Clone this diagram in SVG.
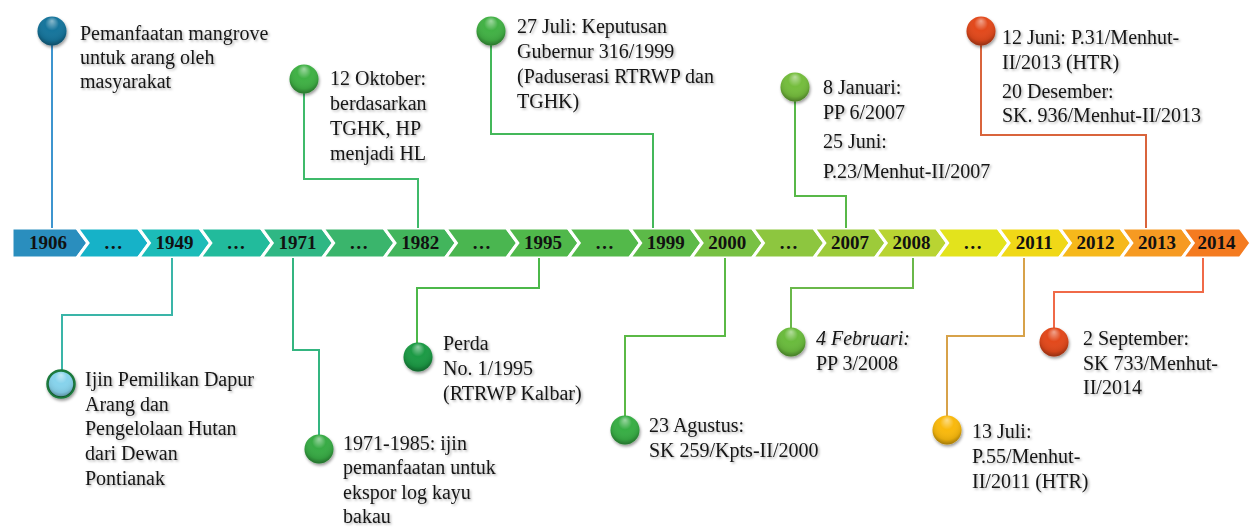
<svg xmlns="http://www.w3.org/2000/svg" width="1251" height="528" viewBox="0 0 1251 528">
<style>
.t{font-family:"Liberation Serif","Times New Roman",serif;font-size:20px;fill:#151515;filter:url(#ts)}
.y{font-family:"Liberation Serif","Times New Roman",serif;font-size:19px;font-weight:bold;fill:#111;text-anchor:middle}
.ch{stroke:#fff;stroke-width:3;stroke-linejoin:miter}
.c{fill:none;stroke-width:2}
.dot{filter:url(#ds)}
.gl{fill:url(#gloss)}
</style>
<defs>
<radialGradient id="gloss" cx="0.5" cy="0.4" r="0.6" fx="0.5" fy="0.15">
<stop offset="0" stop-color="#fff" stop-opacity="0.5"/>
<stop offset="0.4" stop-color="#fff" stop-opacity="0"/>
<stop offset="0.8" stop-color="#000" stop-opacity="0.08"/>
<stop offset="1" stop-color="#000" stop-opacity="0.35"/>
</radialGradient>
<filter id="ds" x="-50%" y="-50%" width="200%" height="200%">
<feDropShadow dx="1" dy="2" stdDeviation="1.5" flood-color="#000" flood-opacity="0.4"/>
</filter>
<filter id="ts" x="-5%" y="-20%" width="110%" height="150%">
<feDropShadow dx="1.5" dy="1.5" stdDeviation="1" flood-color="#000" flood-opacity="0.3"/>
</filter>
</defs>
<rect width="1251" height="528" fill="#fff"/>
<g id="timeline">
<polygon class="ch" fill="#2a8ebe" points="12,228 77,228 88,243 77,258 12,258"/>
<polygon class="ch" fill="#16b2c8" points="77,228 138.4,228 149.4,243 138.4,258 77,258 88,243"/>
<polygon class="ch" fill="#1cbcb8" points="138.4,228 199.8,228 210.8,243 199.8,258 138.4,258 149.4,243"/>
<polygon class="ch" fill="#22bb9c" points="199.8,228 261.2,228 272.2,243 261.2,258 199.8,258 210.8,243"/>
<polygon class="ch" fill="#2fb784" points="261.2,228 322.6,228 333.6,243 322.6,258 261.2,258 272.2,243"/>
<polygon class="ch" fill="#3ab56c" points="322.6,228 384,228 395,243 384,258 322.6,258 333.6,243"/>
<polygon class="ch" fill="#42b55c" points="384,228 445.4,228 456.4,243 445.4,258 384,258 395,243"/>
<polygon class="ch" fill="#4ab650" points="445.4,228 506.8,228 517.8,243 506.8,258 445.4,258 456.4,243"/>
<polygon class="ch" fill="#50b84b" points="506.8,228 568.2,228 579.2,243 568.2,258 506.8,258 517.8,243"/>
<polygon class="ch" fill="#53b94a" points="568.2,228 629.6,228 640.6,243 629.6,258 568.2,258 579.2,243"/>
<polygon class="ch" fill="#5cba48" points="629.6,228 691,228 702,243 691,258 629.6,258 640.6,243"/>
<polygon class="ch" fill="#78c143" points="691,228 752.4,228 763.4,243 752.4,258 691,258 702,243"/>
<polygon class="ch" fill="#8dc63f" points="752.4,228 813.8,228 824.8,243 813.8,258 752.4,258 763.4,243"/>
<polygon class="ch" fill="#9dcb3a" points="813.8,228 875.2,228 886.2,243 875.2,258 813.8,258 824.8,243"/>
<polygon class="ch" fill="#b9d432" points="875.2,228 936.6,228 947.6,243 936.6,258 875.2,258 886.2,243"/>
<polygon class="ch" fill="#e3e31c" points="936.6,228 998,228 1009,243 998,258 936.6,258 947.6,243"/>
<polygon class="ch" fill="#f0d817" points="998,228 1059.4,228 1070.4,243 1059.4,258 998,258 1009,243"/>
<polygon class="ch" fill="#f6b81b" points="1059.4,228 1120.8,228 1131.8,243 1120.8,258 1059.4,258 1070.4,243"/>
<polygon class="ch" fill="#f69a22" points="1120.8,228 1182.2,228 1193.2,243 1182.2,258 1120.8,258 1131.8,243"/>
<polygon class="ch" fill="#f47b20" points="1182.2,228 1240,228 1251,243 1240,258 1182.2,258 1193.2,243"/>
<text class="y" x="48" y="249">1906</text>
<text class="y" x="113.2" y="249">…</text>
<text class="y" x="174.6" y="249">1949</text>
<text class="y" x="236" y="249">…</text>
<text class="y" x="297.4" y="249">1971</text>
<text class="y" x="358.8" y="249">…</text>
<text class="y" x="420.2" y="249">1982</text>
<text class="y" x="481.6" y="249">…</text>
<text class="y" x="543" y="249">1995</text>
<text class="y" x="604.4" y="249">…</text>
<text class="y" x="665.8" y="249">1999</text>
<text class="y" x="727.2" y="249">2000</text>
<text class="y" x="788.6" y="249">…</text>
<text class="y" x="850" y="249">2007</text>
<text class="y" x="911.4" y="249">2008</text>
<text class="y" x="972.8" y="249">…</text>
<text class="y" x="1034.2" y="249">2011</text>
<text class="y" x="1095.6" y="249">2012</text>
<text class="y" x="1157" y="249">2013</text>
<text class="y" x="1216.6" y="249">2014</text>
</g>
<g id="connectors">
<path class="c" stroke="#3e95cf" d="M52,45 V228"/>
<path class="c" stroke="#3fba6a" d="M304,93 V179 H418 V228"/>
<path class="c" stroke="#44b85a" d="M491,45 V134 H653 V228"/>
<path class="c" stroke="#58b848" d="M795,101 V196 H846 V228"/>
<path class="c" stroke="#d9643c" d="M981,45 V135 H1146 V228"/>
<path class="c" stroke="#3ab5a8" d="M172,258 V315 H62 V370"/>
<path class="c" stroke="#34b580" d="M293,258 V350 H319 V435"/>
<path class="c" stroke="#4cb84a" d="M539,258 V288 H417 V343"/>
<path class="c" stroke="#5bb946" d="M725,258 V336 H625 V416"/>
<path class="c" stroke="#6ab84a" d="M913,258 V288 H791 V328"/>
<path class="c" stroke="#d7a24a" d="M1024,258 V336 H947 V416"/>
<path class="c" stroke="#f06a48" d="M1203,258 V292 H1054 V328"/>
</g>
<g id="node-1906">
<circle class="dot" cx="52" cy="31" r="14.5" fill="#17759c"/><circle class="gl" cx="52" cy="31" r="14.5"/>
<text class="t" x="80" y="40">Pemanfaatan mangrove</text>
<text class="t" x="80" y="64">untuk arang oleh</text>
<text class="t" x="80" y="88">masyarakat</text>
</g>
<g id="node-1949">
<circle class="dot" cx="61" cy="384" r="13.5" fill="#87d3ec" stroke="#1a7a3c" stroke-width="2.5"/><circle class="gl" cx="61" cy="384" r="13"/>
<text class="t" x="85" y="386">Ijin Pemilikan  Dapur</text>
<text class="t" x="85" y="411">Arang dan</text>
<text class="t" x="85" y="435">Pengelolaan Hutan</text>
<text class="t" x="85" y="460">dari Dewan</text>
<text class="t" x="85" y="485">Pontianak</text>
</g>
<g id="node-1971">
<circle class="dot" cx="319" cy="449" r="14.5" fill="#37ab44"/><circle class="gl" cx="319" cy="449" r="14.5"/>
<text class="t" x="343" y="450">1971-1985:  ijin</text>
<text class="t" x="343" y="474">pemanfaatan untuk</text>
<text class="t" x="343" y="499">ekspor log kayu</text>
<text class="t" x="343" y="523">bakau</text>
</g>
<g id="node-1982">
<circle class="dot" cx="304" cy="79" r="14.5" fill="#3fb145"/><circle class="gl" cx="304" cy="79" r="14.5"/>
<text class="t" x="330" y="85">12 Oktober:</text>
<text class="t" x="330" y="110">berdasarkan</text>
<text class="t" x="330" y="135">TGHK, HP</text>
<text class="t" x="330" y="160">menjadi HL</text>
</g>
<g id="node-1995">
<circle class="dot" cx="418" cy="357" r="14.5" fill="#1e9a45"/><circle class="gl" cx="418" cy="357" r="14.5"/>
<text class="t" x="443" y="350">Perda</text>
<text class="t" x="443" y="375">No. 1/1995</text>
<text class="t" x="443" y="400">(RTRWP Kalbar)</text>
</g>
<g id="node-1999">
<circle class="dot" cx="491" cy="31" r="14.5" fill="#42b144"/><circle class="gl" cx="491" cy="31" r="14.5"/>
<text class="t" x="517" y="33">27 Juli:  Keputusan</text>
<text class="t" x="517" y="58">Gubernur 316/1999</text>
<text class="t" x="517" y="83">(Paduserasi RTRWP dan</text>
<text class="t" x="517" y="108">TGHK)</text>
</g>
<g id="node-2000">
<circle class="dot" cx="625" cy="430" r="14.5" fill="#37ae45"/><circle class="gl" cx="625" cy="430" r="14.5"/>
<text class="t" x="649" y="432">23 Agustus:</text>
<text class="t" x="649" y="457">SK 259/Kpts-II/2000</text>
</g>
<g id="node-2007">
<circle class="dot" cx="795" cy="87" r="14.5" fill="#74bd3d"/><circle class="gl" cx="795" cy="87" r="14.5"/>
<text class="t" x="823" y="94">8 Januari:</text>
<text class="t" x="823" y="119">PP 6/2007</text>
<text class="t" x="823" y="148">25 Juni:</text>
<text class="t" x="823" y="178">P.23/Menhut-II/2007</text>
</g>
<g id="node-2008">
<circle class="dot" cx="791" cy="342" r="14.5" fill="#6bbb3d"/><circle class="gl" cx="791" cy="342" r="14.5"/>
<text class="t" x="816" y="345" font-style="italic">4 Februari:</text>
<text class="t" x="816" y="370">PP 3/2008</text>
</g>
<g id="node-2011">
<circle class="dot" cx="947" cy="430" r="14.5" fill="#f9b90f"/><circle class="gl" cx="947" cy="430" r="14.5"/>
<text class="t" x="972" y="438">13 Juli:</text>
<text class="t" x="972" y="463">P.55/Menhut-</text>
<text class="t" x="972" y="488">II/2011  (HTR)</text>
</g>
<g id="node-2013">
<circle class="dot" cx="981" cy="31" r="14.5" fill="#e24a1a"/><circle class="gl" cx="981" cy="31" r="14.5"/>
<text class="t" x="1002" y="44">12 Juni: P.31/Menhut-</text>
<text class="t" x="1002" y="69">II/2013  (HTR)</text>
<text class="t" x="1002" y="98">20 Desember:</text>
<text class="t" x="1002" y="122">SK. 936/Menhut-II/2013</text>
</g>
<g id="node-2014">
<circle class="dot" cx="1054" cy="342" r="14.5" fill="#e24a1a"/><circle class="gl" cx="1054" cy="342" r="14.5"/>
<text class="t" x="1083" y="345">2 September:</text>
<text class="t" x="1083" y="370">SK 733/Menhut-</text>
<text class="t" x="1083" y="394">II/2014</text>
</g>
</svg>
